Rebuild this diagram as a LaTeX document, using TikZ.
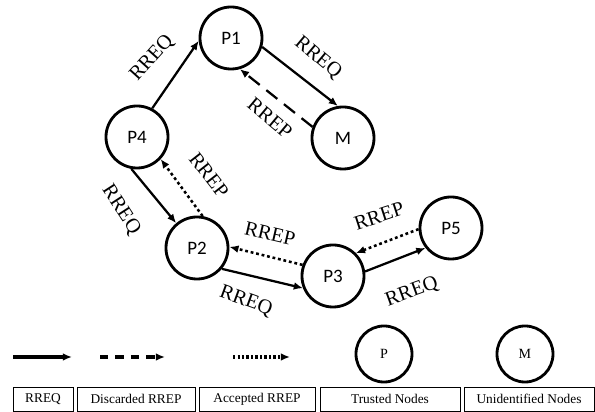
\documentclass[tikz,border=0pt]{standalone}
\usepackage{fontspec}
\setmainfont{Liberation Serif}
\newfontfamily\nodefont{Carlito}
\usetikzlibrary{arrows.meta}

\begin{document}
\begin{tikzpicture}[
  x=0.025cm, y=-0.025cm,
  >={Latex[length=6.5pt,width=5.5pt]},
  peer/.style={draw, circle, line width=2pt, minimum size=1.55cm, inner sep=0pt, font=\nodefont\fontsize{13.5}{15}\selectfont},
  req/.style={->, line width=1.6pt},
  badrep/.style={->, line width=1.6pt, dash pattern=on 10pt off 6pt},
  goodrep/.style={->, line width=1.8pt, dash pattern=on 2pt off 2pt},
  msg/.style={font=\fontsize{14.5}{16}\selectfont, inner sep=0pt},
  keybox/.style={draw, line width=0.6pt, minimum height=0.6cm, inner sep=0pt, font=\fontsize{9.5}{11}\selectfont},
  keynode/.style={draw, circle, line width=2pt, minimum size=1.4cm, inner sep=0pt, font=\fontsize{10}{11}\selectfont},
]
\useasboundingbox (0,0) rectangle (595,412);

% Nodes
\node[peer] (P1) at (231, 38) {P1};
\node[peer] (M)  at (343,138) {M};
\node[peer] (P4) at (137,137) {P4};
\node[peer] (P2) at (197,248) {P2};
\node[peer] (P3) at (333,276) {P3};
\node[peer] (P5) at (451,228) {P5};

% ========== Route request / reply ==========
\draw[req] (P4.62) -- (P1.185);
\draw[req] (P1.-16) -- (M.99);
\draw[badrep] (M.160) -- (P1.-74);
\draw[req] (P4.-100) -- (P2.130);
\draw[goodrep] (P2.80) -- (P4.-43);
\draw[req] (P2.-40) -- (P3.202);
\draw[goodrep] (P3.160) -- (P2.2);
\draw[req] (P3.8) -- (P5.218);
\draw[goodrep] (P5.182) -- (P3.45);

% Labels
\node[msg, rotate=48]  (l_p4p1) at (152, 58) {RREQ};
\node[msg, rotate=-40] (l_p1m)  at (318, 58) {RREQ};
\node[msg, rotate=-40] (l_mp1)  at (270,118) {RREP};
\node[msg, rotate=-52] (l_p2p4) at (209,175) {RREP};
\node[msg, rotate=-57] (l_p4p2) at (121,210) {RREQ};
\node[msg, rotate=-13] (l_p3p2) at (270,234) {RREP};
\node[msg, rotate=-20] (l_p2p3) at (246,301) {RREQ};
\node[msg, rotate=18]  (l_p5p3) at (379,216) {RREP};
\node[msg, rotate=20]  (l_p3p5) at (412,292) {RREQ};

% ========== Legend ==========
\coordinate (k1a) at (13,357);  \coordinate (k1b) at (72,357);
\coordinate (k2a) at (100,357); \coordinate (k2b) at (165,357);
\coordinate (k3a) at (233,357); \coordinate (k3b) at (290,357);
\draw[req, line width=2.2pt] (k1a) -- (k1b);
\draw[badrep, line width=2.2pt, dash pattern=on 6pt off 5pt] (k2a) -- (k2b);
\draw[goodrep, line width=2.2pt, dash pattern=on 1.6pt off 1.6pt] (k3a) -- (k3b);
\node[keynode] (keyP) at (384,354) {P};
\node[keynode] (keyM) at (525,354) {M};

\node[keybox, minimum width=1.5cm]  (b_req)  at (43,399)  {RREQ};
\node[keybox, minimum width=2.95cm] (b_disc) at (136,399) {Discarded RREP};
\node[keybox, minimum width=2.9cm]  (b_acc)  at (257,399) {Accepted RREP};
\node[keybox, minimum width=3.5cm]  (b_trust) at (390,399) {Trusted Nodes};
\node[keybox, minimum width=3.25cm] (b_unid) at (529,399) {Unidentified Nodes};

\end{tikzpicture}
\end{document}
